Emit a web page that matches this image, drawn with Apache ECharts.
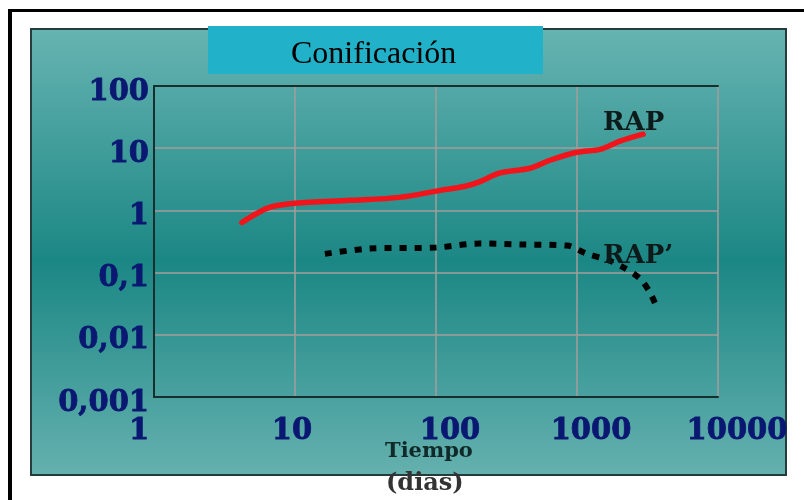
<!DOCTYPE html>
<html>
<head>
<meta charset="utf-8">
<script src="https://cdn.jsdelivr.net/npm/echarts@6/dist/echarts.min.js"></script>
<style>
  html, body { margin: 0; padding: 0; background: #fff; }
  #chart { width: 804px; height: 500px; }
</style>
</head>
<body>
<div id="chart"></div>
<script>
// ejes (escala log)
const xTickLabels = ['1', '10', '100', '1000', '10000'];
const yTickLabels = ['0,001', '0,01', '0,1', '1', '10', '100'];

// RAP - curva roja
const rapX = [4.2, 5.2, 6.6, 10, 24.5, 55, 107, 161, 205, 284, 464, 644, 1000, 1457, 2020, 2940];
const rapY = [0.64, 0.86, 1.12, 1.3, 1.45, 1.62, 2.1, 2.44, 2.9, 4.0, 4.76, 6.4, 8.6, 9.6, 13, 16.8];

// RAP' - curva punteada negra
const rap2X = [16.3, 34, 100, 205, 414, 849, 1178, 1633, 2154, 2797, 3297, 3690];
const rap2Y = [0.2, 0.244, 0.253, 0.294, 0.283, 0.272, 0.2, 0.162, 0.12, 0.08, 0.0476, 0.027];

const seriesNames = ['RAP', 'RAP\u2019'];
const titleText = 'Conificación';

const chart = echarts.init(document.getElementById('chart'));

const serif = 'DejaVu Serif';
const tickColor = '#0b1872';
const gridColor = '#a39e9b';
const frameColor = '#17302f';

const tickFont = {
  fontFamily: serif,
  fontWeight: 'bold',
  fontSize: 29,
  color: tickColor,
  textBorderColor: tickColor,
  textBorderWidth: 0.8
};

// desplazamiento de cada etiqueta del eje x
const xShift = [-15, -3, 14, 14, 19];
let xRich = {};
xShift.forEach((d, i) => {
  xRich['s' + i] = Object.assign({}, tickFont, {
    padding: d > 0 ? [0, 0, 0, 2 * d] : [0, -2 * d, 0, 0]
  });
});
// las del eje y van un poco mas abajo
let yRich = {
  a: Object.assign({}, tickFont, { padding: [12, 0, 0, 0] })
};

function zip(xs, ys) {
  let out = [];
  for (let i = 0; i < xs.length; i++) out.push([xs[i], ys[i]]);
  return out;
}

const option = {
  animation: false,
  backgroundColor: '#fff',
  graphic: [
    // marco negro (arriba / izquierda)
    { type: 'rect', z: -20, shape: { x: 8, y: 9, width: 800, height: 3 }, style: { fill: '#000' } },
    { type: 'rect', z: -20, shape: { x: 8, y: 9, width: 4, height: 495 }, style: { fill: '#000' } },
    // panel verde azulado
    {
      type: 'rect', z: -10,
      shape: { x: 31, y: 29, width: 755, height: 446 },
      style: {
        fill: new echarts.graphic.LinearGradient(0, 0, 0, 1, [
          { offset: 0, color: '#67b4b2' },
          { offset: 0.52, color: '#1b8784' },
          { offset: 1, color: '#65b1af' }
        ]),
        stroke: '#243c3c',
        lineWidth: 2
      }
    },
    // caja del titulo
    {
      type: 'rect', z: 10,
      shape: { x: 208, y: 26, width: 335, height: 48 },
      style: { fill: '#21b1c8' }
    },
    {
      type: 'text', z: 11, left: 291, top: 39,
      style: { text: titleText, fontFamily: 'Liberation Serif', fontSize: 32, fill: '#000' }
    },
    // etiquetas de las series
    {
      type: 'text', z: 11, left: 603, top: 110,
      style: { text: seriesNames[0], fontFamily: serif, fontWeight: 'bold', fontSize: 26, fill: '#0d1a1a' }
    },
    {
      type: 'text', z: 11, left: 603, top: 243,
      style: { text: seriesNames[1], fontFamily: serif, fontWeight: 'bold', fontSize: 26, fill: '#0d1a1a' }
    },
    // titulo del eje x
    {
      type: 'text', z: 11, left: 385, top: 441,
      style: { text: 'Tiempo', fontFamily: serif, fontWeight: 'bold', fontSize: 21, fill: '#0f2a28' }
    },
    {
      type: 'text', z: 11, left: 386, top: 472,
      style: { text: '(dias)', fontFamily: serif, fontWeight: 'bold', fontSize: 24, fill: '#333' }
    }
  ],
  grid: { left: 154, top: 86, width: 564, height: 311, containLabel: false },
  xAxis: [
    {
      type: 'log', logBase: 10, min: 1, max: 10000,
      axisLine: { show: true, lineStyle: { color: frameColor, width: 2 } },
      axisTick: { show: false },
      splitLine: { show: true, lineStyle: { color: gridColor, width: 1.5 } },
      axisLabel: {
        margin: 20,
        showMinLabel: true,
        showMaxLabel: true,
        formatter: v => {
          let i = Math.round(Math.log10(v));
          return '{s' + i + '|' + xTickLabels[i] + '}';
        },
        rich: xRich
      }
    },
    {
      type: 'log', logBase: 10, min: 1, max: 10000, position: 'top',
      axisLine: { show: true, lineStyle: { color: frameColor, width: 2 } },
      axisTick: { show: false },
      axisLabel: { show: false },
      splitLine: { show: false }
    }
  ],
  yAxis: {
    type: 'log', logBase: 10, min: 0.001, max: 100,
    axisLine: { show: true, lineStyle: { color: frameColor, width: 2 } },
    axisTick: { show: false },
    splitLine: { show: true, lineStyle: { color: gridColor, width: 1.5 } },
    axisLabel: {
      margin: 5,
      showMinLabel: true,
      showMaxLabel: true,
      formatter: v => '{a|' + yTickLabels[Math.round(Math.log10(v)) + 3] + '}',
      rich: yRich
    }
  },
  series: [
    {
      name: seriesNames[0],
      type: 'line',
      xAxisIndex: 0,
      data: zip(rapX, rapY),
      smooth: 0.3,
      showSymbol: false,
      lineStyle: { color: '#f2141b', width: 5.5, cap: 'round' }
    },
    {
      name: seriesNames[1],
      type: 'line',
      xAxisIndex: 0,
      data: zip(rap2X, rap2Y),
      smooth: 0.3,
      showSymbol: false,
      lineStyle: { color: '#000', width: 6, type: [7, 8], cap: 'butt' }
    }
  ]
};

chart.setOption(option);
</script>
</body>
</html>
